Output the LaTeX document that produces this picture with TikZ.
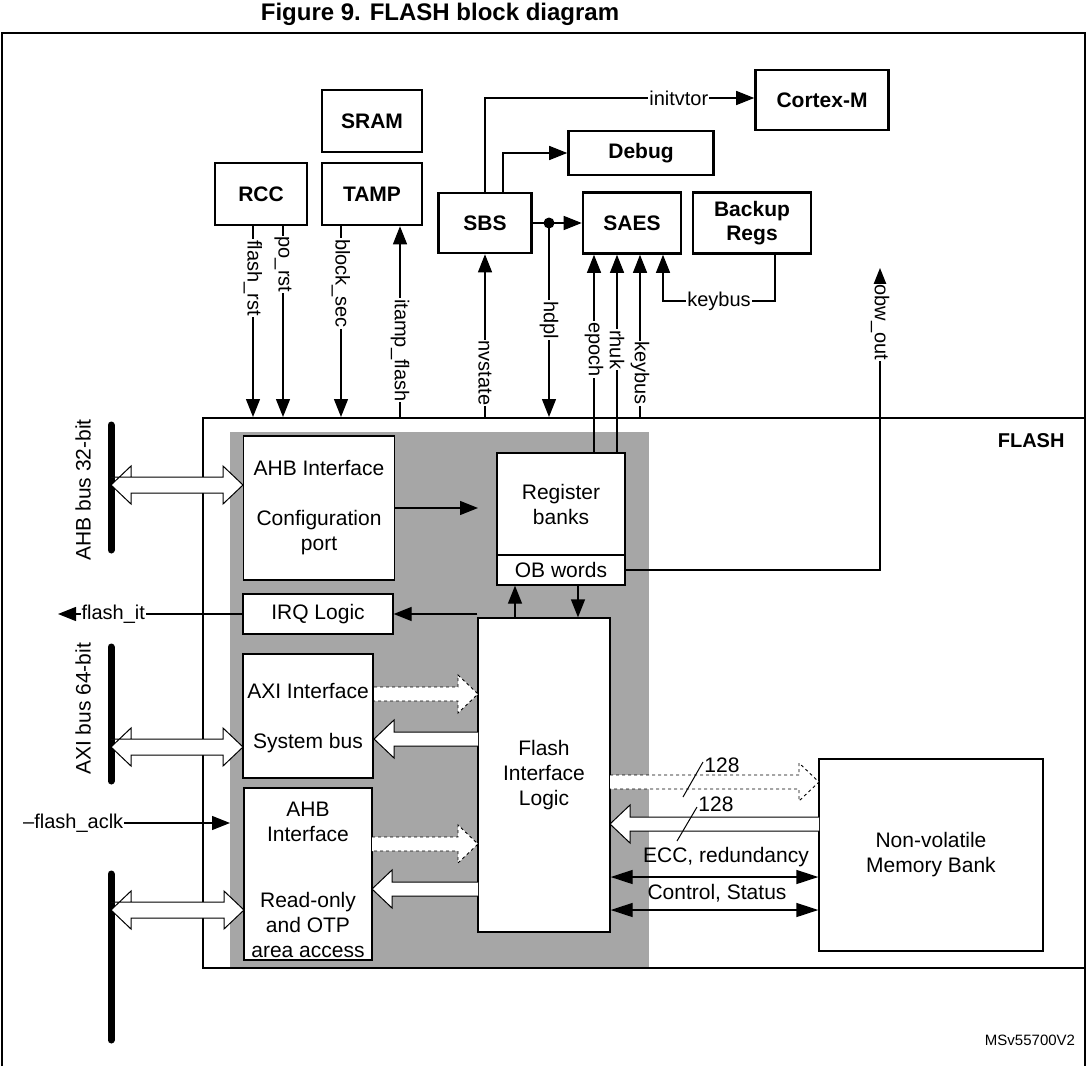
\documentclass[tikz,border=0pt]{standalone}
\usepackage{fontspec}
\setmainfont{Liberation Sans}
\usetikzlibrary{arrows.meta}
\definecolor{shadegray}{HTML}{A6A6A6}
\newcommand\hol[4]{%
 \pgfmathsetmacro\dd{(#2>#1)?20:-20}
 \draw[#4,fill=white] (#1,#3-7) -- (#2-\dd,#3-7) -- (#2-\dd,#3-19) -- (#2,#3) -- (#2-\dd,#3+19) -- (#2-\dd,#3+7) -- (#1,#3+7);}
\newcommand\dhol[3]{%
 \draw[line width=1pt,fill=white] (#1,#3-8) -- (#2-20,#3-8) -- (#2-20,#3-19) -- (#2,#3) -- (#2-20,#3+19) -- (#2-20,#3+8) -- (#1+20,#3+8) -- (#1+20,#3+19) -- (#1,#3) -- (#1+20,#3-19) -- (#1+20,#3-8) -- cycle;}
\begin{document}
\begin{tikzpicture}[x=1pt,y=-1pt,
 blk/.style={draw,line width=2.6pt,font=\fontsize{21}{24}\selectfont\bfseries,align=center,inner sep=0pt},
 box/.style={draw,fill=white,line width=1.3pt,font=\fontsize{21}{25}\selectfont,align=center,inner sep=0pt},
 txt/.style={font=\fontsize{21}{25}\selectfont,align=center,inner sep=0pt},
 sig/.style={line width=1.3pt},
 tip/.style={-{Triangle[length=18pt,width=14pt]}},
 lab/.style={fill=white,inner sep=1pt,font=\fontsize{20}{22}\selectfont},
 vlab/.style={lab,rotate=-90}]
\useasboundingbox (0,0) rectangle (1087,1066);
\node[font=\fontsize{24}{28}\selectfont\bfseries] (title) at (440,14) {Figure 9. FLASH block diagram};
\draw[line width=1.3pt] (2,1066) -- (2,33) -- (1085,33) -- (1085,1066);
% top blocks
\node[blk,minimum width=100pt,minimum height=62pt] (sram) at (372,121) {SRAM};
\node[blk,minimum width=100pt,minimum height=62pt] (tamp) at (372,194) {TAMP};
\node[blk,minimum width=92pt,minimum height=62pt] (rcc) at (261,194) {RCC};
\node[blk,minimum width=93pt,minimum height=60pt] (sbs) at (485,223) {SBS};
\node[blk,minimum width=98pt,minimum height=61pt] (saes) at (632,223) {SAES};
\node[blk,minimum width=118pt,minimum height=61pt] (bkp) at (752,223) {Backup\\Regs};
\node[blk,minimum width=145pt,minimum height=44pt] (dbg) at (641,153) {Debug};
\node[blk,minimum width=133pt,minimum height=60pt] (cm) at (822,100) {Cortex-M};
% FLASH
\node[draw,line width=2pt,fill=white,minimum width=882pt,minimum height=550pt,inner sep=0pt] (flash) at (644,693) {};
\fill[shadegray] (230,432) rectangle (649,967);
\node[font=\fontsize{20}{24}\selectfont\bfseries,anchor=east] (flbl) at (1068,441) {FLASH};
\node[box,minimum width=151pt,minimum height=144pt] (ahb) at (319,508) {};
\node[txt] at (319,468) {AHB Interface};
\node[txt] at (319,533) {Configuration\\port};
\node[box,minimum width=150pt,minimum height=40pt] (irq) at (318,614) {IRQ Logic};
\node[box,minimum width=130pt,minimum height=124pt] (axi) at (308,716) {};
\node[txt] at (308,691) {AXI Interface};
\node[txt] at (308,743) {System bus};
\node[box,minimum width=128pt,minimum height=172pt] (ahb2) at (308,874) {};
\node[txt] at (308,822) {AHB\\Interface};
\node[txt] at (308,925) {Read-only\\and OTP\\area access};
\node[box,minimum width=128pt,minimum height=102pt] (reg) at (561,504) {Register\\banks};
\node[box,minimum width=128pt,minimum height=30pt] (ob) at (561,570) {OB words};
\node[box,minimum width=132pt,minimum height=314pt] (fil) at (544,775) {Flash\\Interface\\Logic};
\node[box,minimum width=224pt,minimum height=192pt] (nvm) at (931,855) {Non-volatile\\Memory Bank};
% top signals
\draw[sig,tip] (rcc.south -| 253,0) -- node[vlab,pos=0.27]{flash\_rst} (flash.north -| 253,0);
\draw[sig,tip] (rcc.south -| 283,0) -- node[vlab,pos=0.2]{po\_rst} (flash.north -| 283,0);
\draw[sig,tip] (tamp.south -| 341,0) -- node[vlab,pos=0.3]{block\_sec} (flash.north -| 341,0);
\draw[sig,tip] (flash.north -| 400,0) -- node[vlab,pos=0.35]{itamp\_flash} (tamp.south -| 400,0);
\draw[sig,tip] (flash.north) ++(-159,0) coordinate (nv) (nv) -- node[vlab,pos=0.27]{nvstate} (sbs.south);
\draw[sig,tip] (sbs.east) -- (saes.west);
\fill (549,223) circle (5.5pt) coordinate (dot);
\draw[sig,tip] (dot) -- node[vlab,pos=0.5]{hdpl} (flash.north -| dot);
\draw[sig,tip] (reg.north -| 594,0) -- node[vlab,pos=0.52]{epoch} (saes.south -| 594,0);
\draw[sig,tip] (reg.north -| 617,0) -- node[vlab,pos=0.52]{rhuk} (saes.south -| 617,0);
\draw[sig,tip] (flash.north -| 640,0) -- node[vlab,pos=0.27]{keybus} (saes.south -| 640,0);
\draw[sig,tip] (bkp.south -| 775,0) -- (775,301) -- node[lab]{keybus} (663,301) -- (saes.south -| 663,0);
\draw[sig,tip] (sbs.north) -- (485,98) -- node[lab,pos=0.72]{initvtor} (cm.west |- 0,98);
\draw[sig,tip] (sbs.north -| 503,0) -- (503,153) -- (dbg.west);
\draw[sig,tip] (ob.east) -- (880,570) -- node[vlab,pos=0.82]{obw\_out} (880,268);
% inner arrows
\draw[sig,tip] (ahb.east |- 0,508) -- (478,508);
\draw[sig,tip] (fil.north -| 515,0) -- (ob.south -| 515,0);
\draw[sig,tip] (ob.south -| 578,0) -- (fil.north -| 578,0);
\draw[sig,tip] (fil.west |- irq.east) -- (irq.east);
\draw[sig,tip] (irq.west) -- node[lab,pos=0.7]{flash\_it} (58,614);
\node[lab,anchor=west] (aclk) at (22,823) {\textendash flash\_aclk};
\draw[sig,tip] (aclk.east) -- (230,823);
% buses
\draw[line width=7pt,line cap=round] (111,425) -- (111,550);
\draw[line width=7pt,line cap=round] (111,647) -- (111,781);
\draw[line width=7pt,line cap=round] (111,874) -- (111,1040);
\node[rotate=90,font=\fontsize{21}{24}\selectfont] (b1) at (83,490) {AHB bus 32-bit};
\node[rotate=90,font=\fontsize{21}{24}\selectfont] (b2) at (83,709) {AXI bus 64-bit};
\dhol{111}{243}{485}
\dhol{111}{243}{747}
\dhol{111}{244}{910}
\hol{374}{478}{694}{dashed,line width=0.9pt}
\hol{478}{374}{739}{line width=1pt}
\hol{372}{478}{844}{dashed,line width=0.9pt}
\hol{478}{372}{889}{line width=1pt}
\hol{610}{819}{782}{dashed,line width=0.9pt}
\hol{819}{610}{824}{line width=1pt}
\draw[line width=1pt] (683,797) -- (703,762);
\node[font=\fontsize{21}{24}\selectfont] at (722,765) {128};
\draw[line width=1pt] (677,841) -- (697,807);
\node[font=\fontsize{21}{24}\selectfont] at (716,804) {128};
\draw[sig,{Triangle[length=22pt,width=14pt]}-{Triangle[length=22pt,width=14pt]}] (fil.east |- 0,877) -- (nvm.west |- 0,877);
\draw[sig,{Triangle[length=22pt,width=14pt]}-{Triangle[length=22pt,width=14pt]}] (fil.east |- 0,910) -- (nvm.west |- 0,910);
\node[font=\fontsize{21}{24}\selectfont] at (726,857) {ECC, redundancy};
\node[font=\fontsize{21}{24}\selectfont] at (717,893) {Control, Status};
\node[font=\fontsize{15}{18}\selectfont] at (1030,1040) {MSv55700V2};
\end{tikzpicture}
\end{document}
